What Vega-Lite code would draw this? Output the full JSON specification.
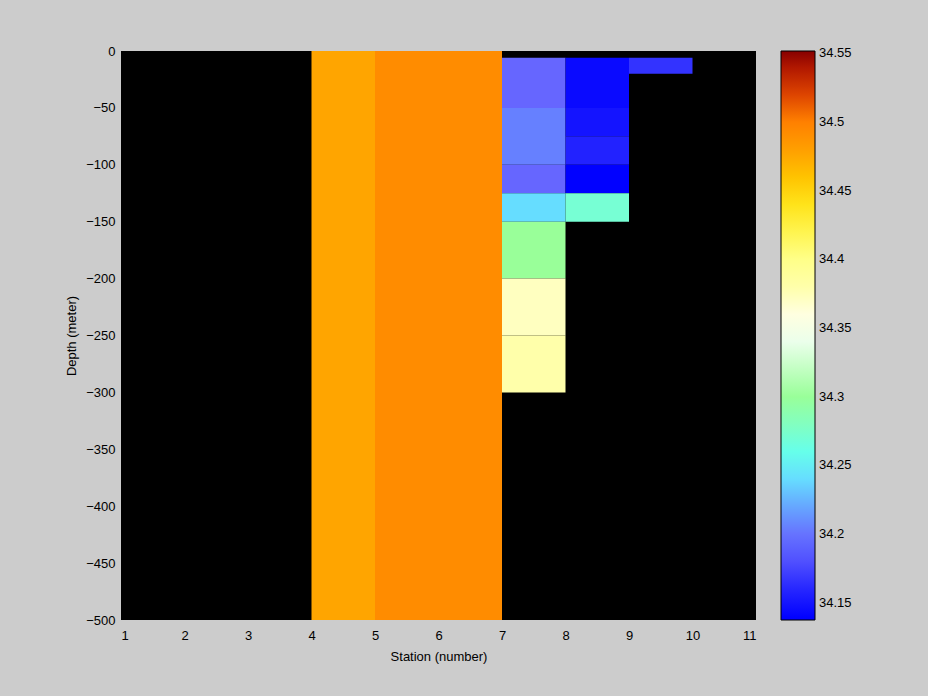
{
  "$schema": "https://vega.github.io/schema/vega-lite/v6.json",
  "autosize": {"type": "none"},
  "padding": {"left": 121, "top": 51, "right": 172, "bottom": 76},
  "width": 635,
  "height": 569,
  "background": "#CCCCCC",
  "config": {
    "font": "Liberation Sans",
    "view": {"fill": "#000000", "stroke": null},
    "axis": {"labelFont": "Liberation Sans", "titleFont": "Liberation Sans", "labelFontSize": 13, "titleFontSize": 13, "labelColor": "#000000", "titleColor": "#000000", "titleFontWeight": "normal", "grid": false, "domain": false, "ticks": false},
    "legend": {"padding": 0}
  },
  "data": {"values": [
    {"x0": 4, "x1": 5, "top": 0, "bottom": -500, "salinity": 34.475},
    {"x0": 5, "x1": 7, "top": 0, "bottom": -500, "salinity": 34.495},
    {"x0": 7, "x1": 8, "top": -6, "bottom": -50, "salinity": 34.195},
    {"x0": 7, "x1": 8, "top": -50, "bottom": -100, "salinity": 34.205},
    {"x0": 7, "x1": 8, "top": -100, "bottom": -125, "salinity": 34.195},
    {"x0": 7, "x1": 8, "top": -125, "bottom": -150, "salinity": 34.24},
    {"x0": 7, "x1": 8, "top": -150, "bottom": -200, "salinity": 34.3},
    {"x0": 7, "x1": 8, "top": -200, "bottom": -250, "salinity": 34.37},
    {"x0": 7, "x1": 8, "top": -250, "bottom": -300, "salinity": 34.38},
    {"x0": 8, "x1": 9, "top": -6, "bottom": -50, "salinity": 34.145},
    {"x0": 8, "x1": 9, "top": -50, "bottom": -75, "salinity": 34.152},
    {"x0": 8, "x1": 9, "top": -75, "bottom": -100, "salinity": 34.158},
    {"x0": 8, "x1": 9, "top": -100, "bottom": -125, "salinity": 34.138},
    {"x0": 8, "x1": 9, "top": -125, "bottom": -150, "salinity": 34.27},
    {"x0": 9, "x1": 10, "top": -6, "bottom": -20, "salinity": 34.165}
  ]},
  "mark": {"type": "rect", "strokeWidth": 0},
  "encoding": {
    "x": {"field": "x0", "type": "quantitative", "scale": {"domain": [1, 11], "nice": false, "zero": false},
      "axis": {"title": "Station (number)", "values": [1,2,3,4,5,6,7,8,9,10,11], "labelPadding": 9, "titlePadding": 8}},
    "x2": {"field": "x1"},
    "y": {"field": "top", "type": "quantitative", "scale": {"domain": [-500, 0], "nice": false, "zero": false},
      "axis": {"title": "Depth (meter)", "values": [0,-50,-100,-150,-200,-250,-300,-350,-400,-450,-500], "labelPadding": 6, "titlePadding": 7}},
    "y2": {"field": "bottom"},
    "color": {"field": "salinity", "type": "quantitative",
      "scale": {"type": "linear", "interpolate": "rgb",
        "domain": [34.1374, 34.145, 34.152, 34.158, 34.165, 34.18, 34.195, 34.205, 34.215, 34.24, 34.25, 34.27, 34.3, 34.35, 34.37, 34.38, 34.4, 34.43, 34.45, 34.475, 34.495, 34.5, 34.52, 34.55, 34.5517],
        "range": ["#0000FF", "#0A0AFF", "#1414FF", "#2222FF", "#3333FF", "#5050FF", "#6666FF", "#6680FF", "#6699FF", "#66DDFF", "#55FFFF", "#77FFD4", "#99FF99", "#FFFFFF", "#FFFFC0", "#FFFFAA", "#FFFF88", "#FFEE33", "#FFD700", "#FFA500", "#FF8C00", "#FF8000", "#DD4400", "#990000", "#880000"]},
      "legend": {"type": "gradient", "title": null, "orient": "right", "offset": 25, "direction": "vertical", "gradientLength": 569, "gradientThickness": 34, "gradientStrokeColor": "#000000", "gradientStrokeWidth": 1, "values": [34.15, 34.2, 34.25, 34.3, 34.35, 34.4, 34.45, 34.5, 34.55], "format": "~g", "labelFont": "Liberation Sans", "labelFontSize": 13, "labelColor": "#000000", "labelOffset": 4, "labelOverlap": false}}
  }
}
